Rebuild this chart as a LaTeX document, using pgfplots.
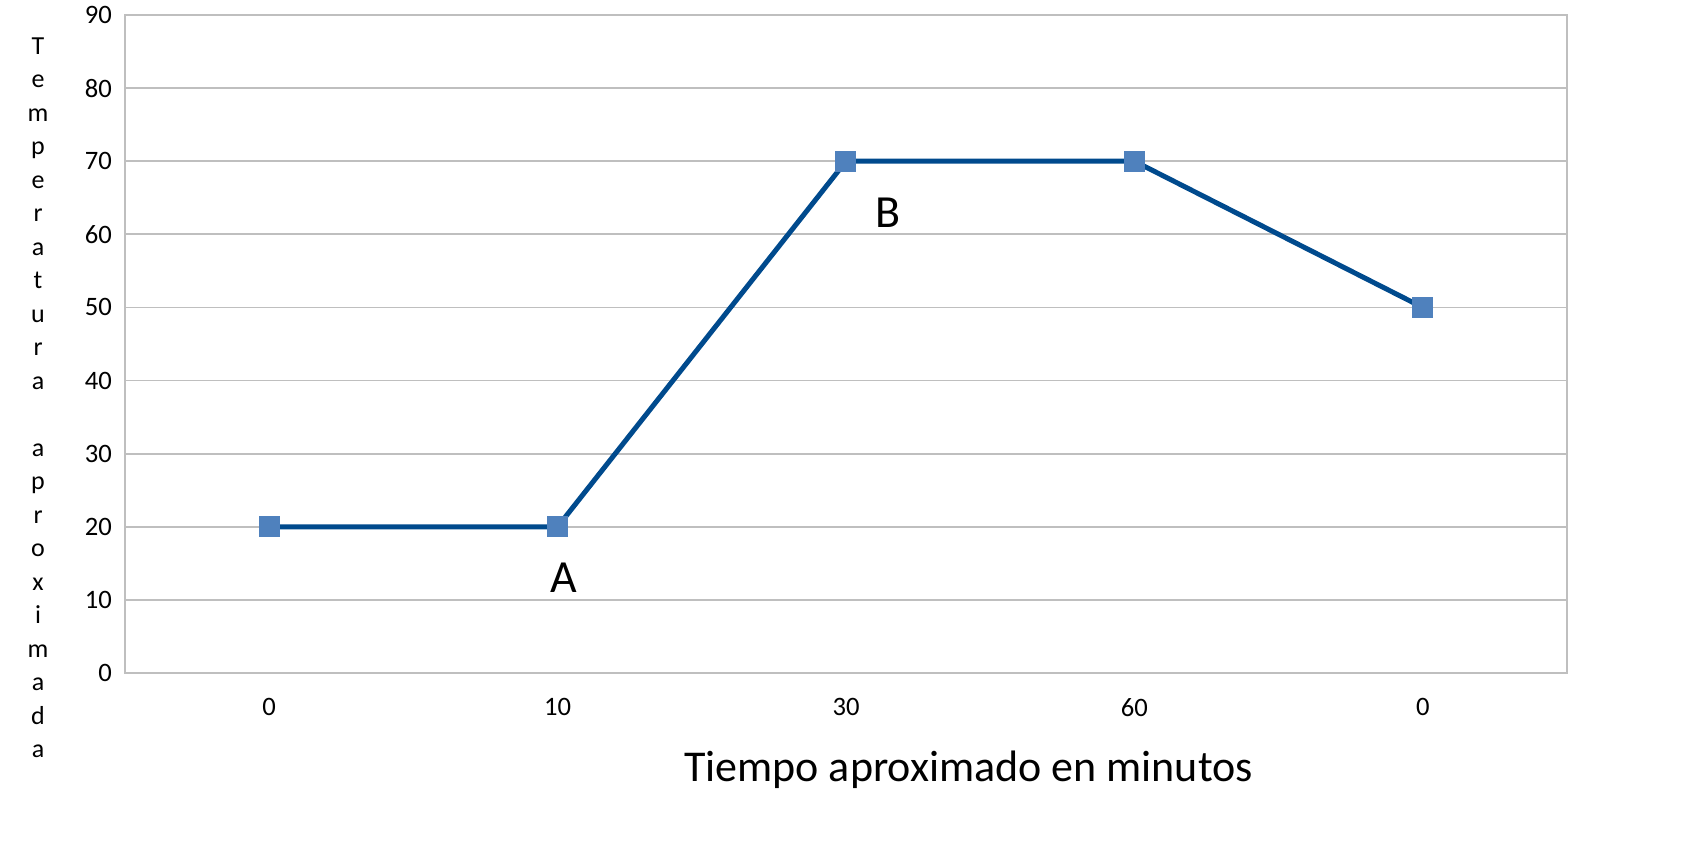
\documentclass[border=0pt]{standalone}
\usepackage{pgfplots}
\pgfplotsset{compat=1.18}
\usepackage{fontspec}
\setmainfont{Carlito}
\definecolor{linecol}{HTML}{004A8D}
\definecolor{markcol}{HTML}{4F81BD}
\definecolor{gridcol}{HTML}{BFBFBF}
\begin{document}
\begin{tikzpicture}
\begin{axis}[
  at={(0,0)}, anchor=south west,
  scale only axis,
  width=721pt, height=329pt,
  xmin=-0.5, xmax=4.5,
  ymin=0, ymax=90,
  xtick={0,1,2,3,4},
  xticklabels={0,10,30,60,0},
  ytick={0,10,...,90},
  /pgf/number format/assume math mode=true,
  major tick length=0pt,
  ymajorgrids,
  grid style={gridcol, line width=0.9pt},
  axis line style={gridcol, line width=1.3pt},
  tick label style={font=\fontsize{13.3}{15}\selectfont},
  yticklabel style={anchor=east, xshift=-3pt},
  xticklabel style={anchor=north, yshift=-9pt},
  xlabel={Tiempo aproximado en minutos},
  every axis x label/.style={at={(axis description cs:0.585,-0.147)}, anchor=center, font=\fontsize{22}{26}\selectfont},
  ylabel={T\\e\\m\\p\\e\\r\\a\\t\\u\\r\\a\\ \\a\\p\\r\\o\\x\\i\\m\\a\\d\\a},
  every axis y label/.style={at={(axis description cs:-0.0603,0.418)}, anchor=center, align=center, font=\fontsize{13}{16.75}\selectfont},
  clip=false,
]
\addplot[linecol, line width=2.5pt, mark=square*, mark size=5pt,
  mark options={fill=markcol, draw=markcol, line width=0pt}]
  coordinates {(0,20) (1,20) (2,70) (3,70) (4,50)};
\node[font=\fontsize{23}{26}\selectfont] at (axis cs:1.02,13.0) {A};
\node[font=\fontsize{23}{26}\selectfont] at (axis cs:2.146,62.9) {B};
\end{axis}
\pgfresetboundingbox
\useasboundingbox (-62.5pt,-88.5pt) rectangle (781pt,336.5pt);
\end{tikzpicture}
\end{document}
